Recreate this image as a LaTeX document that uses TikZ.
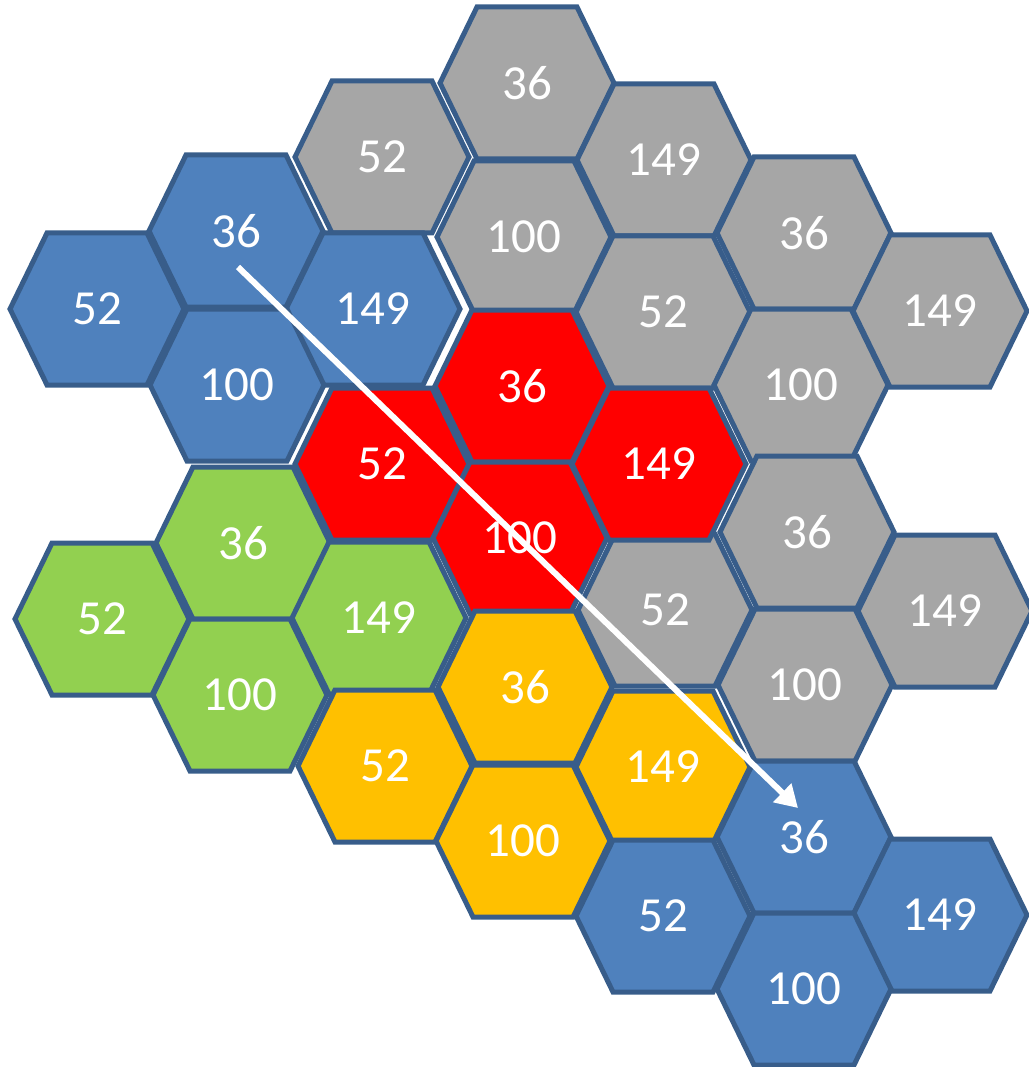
\documentclass[tikz,border=0pt]{standalone}
\usepackage{fontspec}
\setmainfont{Carlito}
\usetikzlibrary{arrows.meta,calc}
\definecolor{edgeblue}{HTML}{385D8A}
\definecolor{fblue}{HTML}{4F81BD}
\definecolor{fgray}{HTML}{A6A6A6}
\definecolor{fred}{HTML}{FF0000}
\definecolor{fgreen}{HTML}{92D050}
\definecolor{forange}{HTML}{FFC000}
\newcommand{\hexcell}[5]{%
  \filldraw[hexline, fill=#4] (#2,#3) ++(-87,0) -- ++(37,-76) -- ++(100,0)
    -- ++(37,76) -- ++(-37,76) -- ++(-100,0) -- cycle;
  \node[hexlabel] (#1) at (#2,#3) {#5};}
\begin{document}
\begin{tikzpicture}[x=1pt,y=-1pt,
  hexline/.style={draw=edgeblue, line width=5pt, line join=miter},
  hexlabel/.style={inner sep=0pt, text=white, font=\fontsize{49}{56}\selectfont},
  pointer/.style={draw=white, line width=6pt, -{Triangle[length=22pt,width=25pt]}}]
\useasboundingbox (0,0) rectangle (1028,1067);
% gray
\hexcell{g1}{527}{83}{fgray}{36}
\hexcell{g2}{382}{157}{fgray}{52}
\hexcell{g3}{664}{160}{fgray}{149}
\hexcell{g4}{524}{237}{fgray}{100}
\hexcell{g5}{804}{233}{fgray}{36}
\hexcell{g6}{663}{312}{fgray}{52}
\hexcell{g7}{940}{311}{fgray}{149}
\hexcell{g8}{801}{385}{fgray}{100}
\hexcell{g9}{807}{532}{fgray}{36}
\hexcell{g10}{665}{610}{fgray}{52}
\hexcell{g11}{945}{611}{fgray}{149}
\hexcell{g12}{805}{685}{fgray}{100}
% blue top left
\hexcell{b1}{236}{231}{fblue}{36}
\hexcell{b2}{97}{309}{fblue}{52}
\hexcell{b3}{373}{309}{fblue}{149}
\hexcell{b4}{237}{385}{fblue}{100}
% red
\hexcell{r1}{522}{386}{fred}{36}
\hexcell{r2}{382}{464}{fred}{52}
\hexcell{r3}{659}{464}{fred}{149}
\hexcell{r4}{520}{538}{fred}{100}
% green
\hexcell{n1}{243}{543}{fgreen}{36}
\hexcell{n2}{102}{619}{fgreen}{52}
\hexcell{n3}{379}{618}{fgreen}{149}
\hexcell{n4}{240}{695}{fgreen}{100}
% orange
\hexcell{o1}{525}{687}{forange}{36}
\hexcell{o2}{385}{766}{forange}{52}
\hexcell{o3}{663}{767}{forange}{149}
\hexcell{o4}{523}{841}{forange}{100}
% blue bottom right
\hexcell{c1}{804}{837}{fblue}{36}
\hexcell{c2}{663}{916}{fblue}{52}
\hexcell{c3}{940}{915}{fblue}{149}
\hexcell{c4}{804}{989}{fblue}{100}
% arrow
\coordinate (astart) at ($(b1)+(2,36)$);
\coordinate (aend) at ($(c1)+(-6,-29)$);
\draw[pointer] (astart) -- (aend);
\end{tikzpicture}
\end{document}
